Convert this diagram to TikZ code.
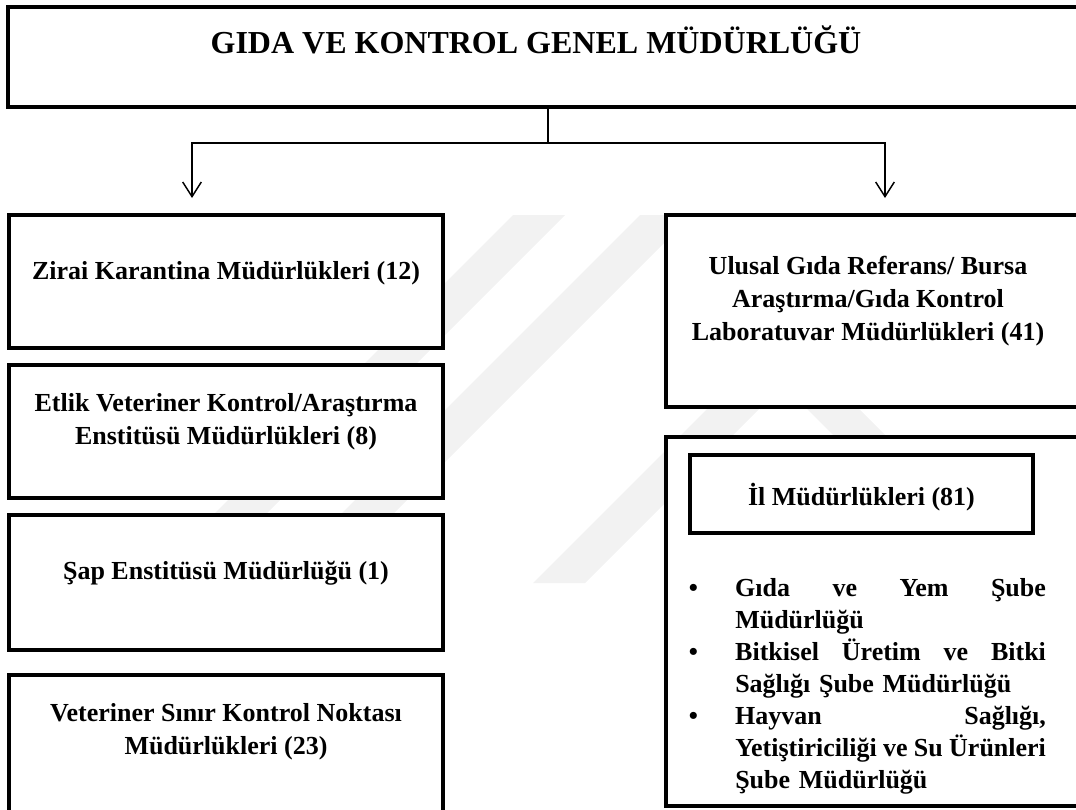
\documentclass[tikz,border=0pt]{standalone}
\usepackage{fontspec}
\setmainfont{Liberation Serif}
\usetikzlibrary{arrows.meta,calc}
\begin{document}
\begin{tikzpicture}[x=0.75pt,y=-0.75pt,
  box/.style={draw=black, line width=3pt, fill=white, rectangle, inner sep=0pt},
  txt/.style={font=\fontsize{19.5}{24.75}\selectfont\bfseries, align=center, inner sep=0pt},
  conn/.style={line width=1.1pt},
  arr/.style={conn, -{Straight Barb[length=11pt,width=14pt]}},
  wm/.style={fill=black!5, draw=none}]
\useasboundingbox (0,0) rectangle (1076,810);
% faint watermark
\fill[wm] (513,215) -- (565,215) -- (197,583) -- (145,583) -- cycle;
\fill[wm] (640,215) -- (692,215) -- (324,583) -- (272,583) -- cycle;
\fill[wm] (533,583) -- (783,333) -- (1033,583) -- (981,583) -- (783,385) -- (585,583) -- cycle;
% top box
\node[box, minimum width=810pt, minimum height=75pt] (top) at (548,56.5) {};
\node[txt, font=\fontsize{24}{29}\selectfont\bfseries] (toptxt) at (536,40) {GIDA VE KONTROL GENEL MÜDÜRLÜĞÜ};
% left column
\node[box, minimum width=325.5pt, minimum height=99.75pt] (zb) at (226,281.5) {};
\node[txt] (zt) at (226,273) {Zirai Karantina Müdürlükleri (12)};
\node[box, minimum width=325.5pt, minimum height=99.75pt] (eb) at (226,431.5) {};
\node[txt] (et) at (226,421.5) {Etlik Veteriner Kontrol/Araştırma\\Enstitüsü Müdürlükleri (8)};
\node[box, minimum width=325.5pt, minimum height=101.25pt] (sb) at (226,582.5) {};
\node[txt] (st) at (226,573) {Şap Enstitüsü Müdürlüğü (1)};
\node[box, minimum width=325.5pt, minimum height=102.75pt] (vb) at (226,743.5) {};
\node[txt] (vt) at (226,731.5) {Veteriner Sınır Kontrol Noktası\\Müdürlükleri (23)};
% right column
\node[box, minimum width=328.5pt, minimum height=144pt] (ub) at (885,311) {};
\node[txt] (ut) at (868,301.5) {Ulusal Gıda Referans/ Bursa\\Araştırma/Gıda Kontrol\\Laboratuvar Müdürlükleri (41)};
\node[box, minimum width=328.5pt, minimum height=276.75pt] (ib) at (885,621.5) {};
\node[box, minimum width=257.25pt, minimum height=58.5pt] (ilb) at (861.5,494) {};
\node[txt] (ilt) at (861.5,497) {İl Müdürlükleri (81)};
\node[anchor=north west, inner sep=0pt, text width=260pt, align=left,
      font=\fontsize{19.5}{24}\selectfont\bfseries] (lst) at (735,578) {%
\leavevmode\llap{\textbullet\hspace{28pt}}\makebox[233pt][l]{Gıda\hfill ve\hfill Yem\hfill Şube}\\
Müdürlüğü\\
\leavevmode\llap{\textbullet\hspace{28pt}}\makebox[233pt][l]{Bitkisel\hfill Üretim\hfill ve\hfill Bitki}\\
Sağlığı Şube Müdürlüğü\\
\leavevmode\llap{\textbullet\hspace{28pt}}\makebox[233pt][l]{Hayvan\hfill Sağlığı,}\\
\makebox[233pt][l]{Yetiştiriciliği\hfill ve\hfill Su\hfill Ürünleri}\\
Şube Müdürlüğü};
% connectors
\coordinate (j) at (548,143);
\draw[conn] (top.south -| j) -- (j);
\draw[arr, shorten >=11.25pt] (j) -| ([xshift=-25.5pt]zb.north);
\draw[arr, shorten >=11.25pt] (j) -| (ub.north);
\end{tikzpicture}
\end{document}
